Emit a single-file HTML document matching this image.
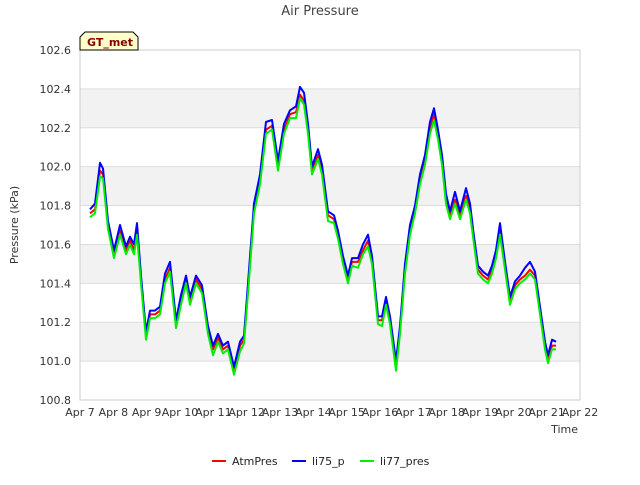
<!DOCTYPE html>
<html><head><meta charset="utf-8"><style>
body{margin:0;background:#fff;font-family:"Liberation Sans","DejaVu Sans",sans-serif;}
</style></head><body>
<svg id="chart" width="640" height="480" xmlns="http://www.w3.org/2000/svg" font-family="DejaVu Sans, Liberation Sans, sans-serif">
<text x="320" y="15" text-anchor="middle" font-size="13" fill="#444">Air Pressure</text>
<g id="bands"></g>
<g id="grid"></g>
<rect x="80" y="50" width="500" height="350" fill="none" stroke="#ccc"/>
<g id="yticks" font-size="11" fill="#333"></g>
<g id="xticks" font-size="11" fill="#333"></g>
<text x="18" y="225" transform="rotate(-90 18 225)" text-anchor="middle" font-size="11" fill="#333">Pressure (kPa)</text>
<text x="578" y="433" text-anchor="end" font-size="11" fill="#333">Time</text>
<g id="series"></g>
<g>
<path d="M80,50 L80,37 L85,32 L133,32 L138,37 L138,50 Z" fill="#ffffcc" stroke="#000"/>
<text x="87" y="46" font-size="11" font-weight="bold" fill="#8b0000">GT_met</text>
</g>
<g font-size="11" fill="#222">
<g><line x1="212" y1="461" x2="226" y2="461" stroke="#ff0000" stroke-width="2"/><text x="232" y="465">AtmPres</text></g>
<g><line x1="292" y1="461" x2="306" y2="461" stroke="#0000ff" stroke-width="2"/><text x="312" y="465">li75_p</text></g>
<g><line x1="360" y1="461" x2="374" y2="461" stroke="#00ee00" stroke-width="2"/><text x="380" y="465">li77_pres</text></g>
</g>
</svg>
<script>
const xTickLabels=["Apr 7","Apr 8","Apr 9","Apr 10","Apr 11","Apr 12","Apr 13","Apr 14","Apr 15","Apr 16","Apr 17","Apr 18","Apr 19","Apr 20","Apr 21","Apr 22"];
const yTickLabels=["100.8","101.0","101.2","101.4","101.6","101.8","102.0","102.2","102.4","102.6"];
const days=[0.30,0.45,0.60,0.69,0.84,1.02,1.20,1.38,1.50,1.62,1.71,1.83,1.98,2.10,2.25,2.40,2.55,2.70,2.88,3.03,3.18,3.30,3.48,3.66,3.84,3.99,4.14,4.29,4.44,4.62,4.80,4.92,5.04,5.22,5.40,5.58,5.76,5.94,6.12,6.30,6.48,6.60,6.72,6.84,6.96,7.14,7.26,7.44,7.62,7.74,7.89,8.04,8.16,8.34,8.49,8.64,8.76,8.94,9.06,9.18,9.30,9.48,9.60,9.75,9.90,10.05,10.20,10.35,10.50,10.62,10.74,10.86,10.98,11.10,11.25,11.40,11.58,11.70,11.82,11.94,12.09,12.24,12.36,12.48,12.60,12.75,12.90,13.05,13.20,13.35,13.50,13.65,13.80,13.95,14.04,14.16,14.28];
const atmPres=[101.76,101.78,101.98,101.96,101.70,101.55,101.67,101.57,101.62,101.57,101.67,101.42,101.13,101.24,101.24,101.26,101.42,101.48,101.19,101.31,101.42,101.31,101.42,101.37,101.16,101.06,101.12,101.06,101.08,100.95,101.08,101.11,101.37,101.78,101.93,102.19,102.21,102.01,102.19,102.27,102.28,102.37,102.34,102.19,101.98,102.06,101.98,101.75,101.73,101.65,101.52,101.42,101.51,101.51,101.57,101.62,101.52,101.21,101.21,101.31,101.21,100.98,101.16,101.47,101.67,101.78,101.93,102.03,102.19,102.27,102.16,102.03,101.83,101.75,101.83,101.75,101.85,101.78,101.62,101.47,101.44,101.42,101.47,101.55,101.67,101.49,101.31,101.39,101.42,101.44,101.47,101.44,101.26,101.08,101.01,101.08,101.08];
const li75p=[101.78,101.81,102.02,101.99,101.72,101.57,101.70,101.59,101.64,101.60,101.71,101.44,101.15,101.26,101.26,101.28,101.45,101.51,101.21,101.34,101.44,101.33,101.44,101.39,101.18,101.08,101.14,101.08,101.10,100.97,101.10,101.13,101.40,101.81,101.96,102.23,102.24,102.03,102.22,102.29,102.31,102.41,102.38,102.22,102.00,102.09,102.01,101.77,101.75,101.67,101.54,101.44,101.53,101.53,101.60,101.65,101.54,101.23,101.23,101.33,101.23,101.00,101.18,101.50,101.70,101.80,101.96,102.06,102.23,102.30,102.19,102.06,101.86,101.77,101.87,101.77,101.89,101.81,101.64,101.49,101.46,101.44,101.49,101.57,101.71,101.51,101.33,101.41,101.44,101.48,101.51,101.46,101.28,101.10,101.03,101.11,101.10];
const li77pres=[101.74,101.76,101.95,101.94,101.68,101.53,101.65,101.55,101.60,101.55,101.65,101.40,101.11,101.22,101.22,101.24,101.40,101.46,101.17,101.29,101.40,101.29,101.40,101.35,101.14,101.03,101.10,101.04,101.06,100.93,101.05,101.09,101.35,101.76,101.91,102.17,102.19,101.98,102.17,102.25,102.25,102.35,102.32,102.17,101.96,102.04,101.96,101.72,101.71,101.63,101.50,101.40,101.49,101.48,101.55,101.59,101.50,101.19,101.18,101.29,101.19,100.95,101.14,101.45,101.65,101.76,101.91,102.01,102.17,102.24,102.14,102.01,101.81,101.73,101.81,101.73,101.83,101.76,101.60,101.45,101.42,101.40,101.45,101.53,101.65,101.47,101.29,101.37,101.40,101.42,101.45,101.42,101.24,101.06,100.99,101.06,101.06];
const X0=80,X1=580,Y0=400,Y1=50,YMIN=100.8,YMAX=102.6,DAYS=15;
const NS="http://www.w3.org/2000/svg";
function xs(d){return X0+(X1-X0)*d/DAYS;}
function ys(v){return Y0-(Y0-Y1)*(v-YMIN)/(YMAX-YMIN);}
function mk(tag,attrs,parent){const e=document.createElementNS(NS,tag);for(const k in attrs)e.setAttribute(k,attrs[k]);document.getElementById(parent).appendChild(e);return e;}
for(let i=0;i<yTickLabels.length;i++){
  const v=parseFloat(yTickLabels[i]),y=ys(v);
  if(i<yTickLabels.length-1&&i%2===1){
    const b=mk("rect",{x:X0,y:ys(v+0.2),width:X1-X0,height:y-ys(v+0.2),fill:"#f2f2f2"},"bands");
    
    
  }
  const g=mk("line",{x1:X0,x2:X1,y1:y,y2:y,stroke:"#ddd"},"grid");
  
  
  const t=mk("text",{x:X0-9,y:y+4,"text-anchor":"end"},"yticks");
  t.textContent=yTickLabels[i];
  
  
}
for(let i=0;i<xTickLabels.length;i++){
  const x=xs(i);
  const t=mk("text",{x:x,y:Y0+16,"text-anchor":"middle"},"xticks");
  t.textContent=xTickLabels[i];
  
  
}
function line(vals,color,name){
  const p=mk("polyline",{points:vals.map((v,i)=>xs(days[i]).toFixed(1)+","+ys(v).toFixed(1)).join(" "),fill:"none",stroke:color,"stroke-width":2,"stroke-linejoin":"round"},"series");
  
  
}
line(atmPres,"#ff0000","atmpres-line");
line(li75p,"#0000ff","li75-p-line");
line(li77pres,"#00ee00","li77-pres-line");
</script>
</body></html>
